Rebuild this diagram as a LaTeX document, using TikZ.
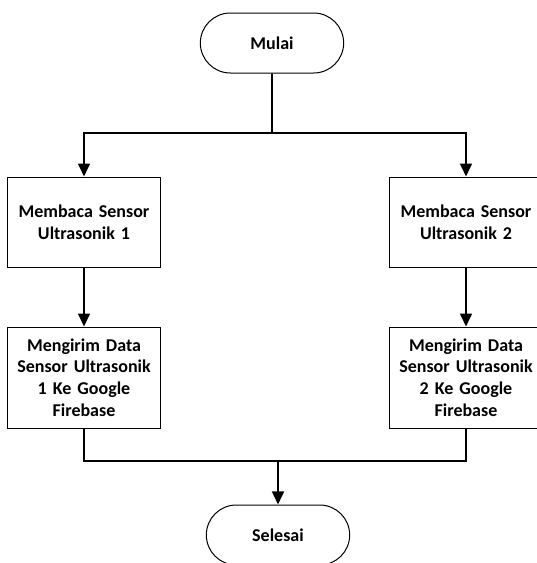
\documentclass[tikz,border=0pt]{standalone}
\usepackage{fontspec}
\setmainfont{Carlito}
\usetikzlibrary{arrows.meta,shapes.misc}
\tikzset{
  terminal/.style={draw, line width=1pt, rounded rectangle, minimum width=150pt, minimum height=60pt, font=\bfseries\fontsize{18}{21.7}\selectfont},
  proses/.style={draw, line width=1pt, rectangle, minimum width=150pt, text width=146pt, align=center, font=\bfseries\fontsize{18}{21.7}\selectfont},
  alur/.style={line width=1.6pt}
}
\begin{document}
\begin{tikzpicture}[x=1pt,y=-1pt,>={Triangle[length=13pt,width=12pt]}]
                \useasboundingbox (0,0) rectangle (537,563);
                \node[terminal] (mulai) at (272,43) {Mulai};
                \coordinate (split) at (272,133);

                \node[proses, minimum height=90pt] (baca1) at (84,222) {Membaca Sensor\\Ultrasonik 1};
                \node[proses, minimum height=101pt] (kirim1) at (84,377.5) {Mengirim Data\\Sensor Ultrasonik\\1 Ke Google\\Firebase};

                \node[proses, minimum height=90pt] (baca2) at (466,222) {Membaca Sensor\\Ultrasonik 2};
                \node[proses, minimum height=101pt] (kirim2) at (466,377.5) {Mengirim Data\\Sensor Ultrasonik\\2 Ke Google\\Firebase};

                \coordinate (merge) at (278,461);
                \node[terminal] (selesai) at (278,535) {Selesai};

                \draw[alur] (mulai) -- (split);
                \draw[alur,->] (split) -| (baca1);
                \draw[alur,->] (split) -| (baca2);
                \path [alur,->] (baca1) edge (kirim1)
                                (baca2) edge (kirim2);
                \draw[alur] (kirim1) |- (merge);
                \draw[alur] (kirim2) |- (merge);
                \draw[alur,->] (merge) -- (selesai);
            \end{tikzpicture}
\end{document}
